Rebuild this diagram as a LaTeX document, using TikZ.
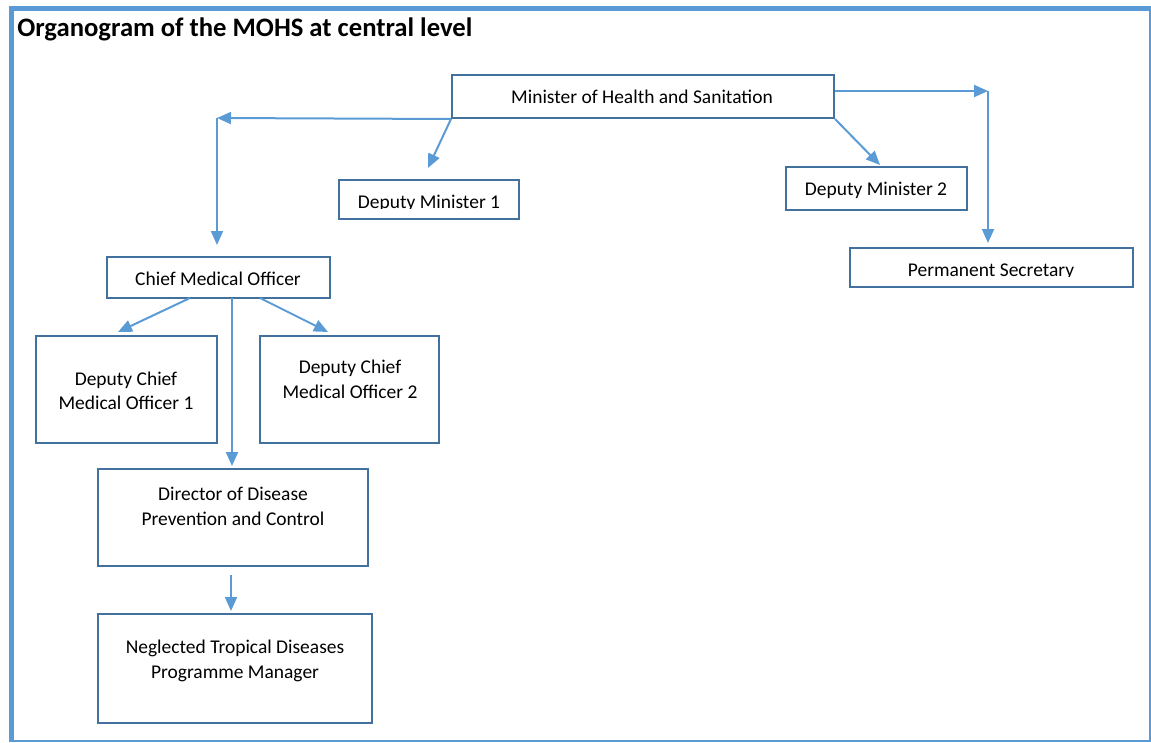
\documentclass[tikz,border=0pt]{standalone}
\usepackage{fontspec}
\setmainfont{Carlito}
\usetikzlibrary{arrows.meta,fit}
\definecolor{arrowblue}{HTML}{5B9BD5}
\definecolor{boxblue}{HTML}{41719C}
\tikzset{
  box/.style={draw=boxblue, line width=1.5pt, inner sep=0pt, fill=white},
  lbl/.style={font=\fontsize{14.6pt}{18pt}\selectfont, anchor=base, inner sep=0pt, text=black},
  conn/.style={draw=arrowblue, line width=1.5pt, -{Triangle[length=10.5pt,width=9pt]}},
  frame/.style={draw=arrowblue}
}
\begin{document}
\begin{tikzpicture}[x=0.75pt,y=-0.75pt]
\useasboundingbox (0,0) rectangle (1151,742);
% frame
\draw[frame, line width=3.75pt] (9,8.5) -- (1151,8.5);
\draw[frame, line width=3.75pt] (11.5,6.6) -- (11.5,742);
\draw[frame, line width=1.5pt] (1150,8) -- (1150,741);
\draw[frame, line width=1.5pt] (11,741) -- (1151,741);
% title
\node[anchor=base west, inner sep=0pt, font=\bfseries\fontsize{20pt}{24pt}\selectfont] (title) at (17,36.5) {Organogram of the MOHS at central level};
% boxes
\node[box, fit={(452,75)(834,118)}] (min) {};
\node[box, fit={(339,180)(519,219)}] (dm1) {};
\node[box, fit={(786,167)(967,210)}] (dm2) {};
\node[box, fit={(850,248)(1133,287)}] (ps) {};
\node[box, fit={(107,257)(330,298)}] (cmo) {};
\node[box, fit={(36,336)(217,443)}] (dcmo1) {};
\node[box, fit={(260,336)(439,443)}] (dcmo2) {};
\node[box, fit={(98,469)(368,566)}] (dir) {};
\node[box, fit={(98,614)(372,723)}] (ntd) {};
% labels
\node[lbl] (minT) at (642,103.5) {Minister of Health and Sanitation};
\begin{scope}
\clip (339,180) rectangle (519,208.8);
\node[lbl] (dm1T) at (429,208.5) {Deputy Minister 1};
\end{scope}
\node[lbl] (dm2T) at (876,195) {Deputy Minister 2};
\begin{scope}
\clip (850,248) rectangle (1133,276.8);
\node[lbl] (psT) at (991,276.5) {Permanent Secretary};
\end{scope}
\node[lbl] (cmoT) at (218,285) {Chief Medical Officer};
\node[lbl] (dcmo1a) at (126,385) {Deputy Chief};
\node[lbl] (dcmo1b) at (126,409) {Medical Officer 1};
\node[lbl] (dcmo2a) at (350,373) {Deputy Chief};
\node[lbl] (dcmo2b) at (350,398) {Medical Officer 2};
\node[lbl] (dira) at (233,500) {Director of Disease};
\node[lbl] (dirb) at (233,525) {Prevention and Control};
\node[lbl] (ntda) at (235,653) {Neglected Tropical Diseases};
\node[lbl] (ntdb) at (235,678) {Programme Manager};
% connector points
\coordinate (lc) at (217,118);
\coordinate (rc) at (988,91);
\coordinate (cmoL) at (190,298);
\coordinate (cmoR) at (260,298);
\coordinate (cmoM) at (232,298);
% connectors
\draw[conn] (min.south west) -- (lc);
\draw[conn] (lc) -- (217,245) coordinate (cmoIn);
\draw[conn] (min.south west) -- (428,168) coordinate (dm1In);
\draw[conn] (min.south east) -- (880,165) coordinate (dm2In);
\draw[conn] (min.east |- rc) -- (rc);
\draw[conn] (rc) -- (988,243) coordinate (psIn);
\draw[conn] (cmoL) -- (118,332) coordinate (dcmo1In);
\draw[conn] (cmoR) -- (328,332) coordinate (dcmo2In);
\draw[conn] (cmoM) -- (232,466) coordinate (dirIn);
\draw[conn] (231,575) coordinate (dirOut) -- (231,611) coordinate (ntdIn);
\end{tikzpicture}
\end{document}
